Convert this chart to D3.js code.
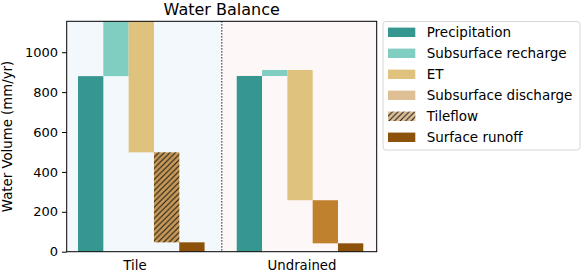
<!DOCTYPE html>
<html>
<head>
<meta charset="utf-8">
<script src="https://cdn.jsdelivr.net/npm/d3@7"></script>
<style>
  body { margin: 0; background: #fff; }
  text { font-family: "DejaVu Sans", sans-serif; fill: #000; }
</style>
</head>
<body>
<svg id="chart" width="584" height="273"></svg>
<script>
// series in legend order
const categories = ["Precipitation", "Subsurface recharge", "ET", "Subsurface discharge", "Tileflow", "Surface runoff"];
const colors = ["#35978f", "#80cdc1", "#dfc27d", "#dfc096", "#c99956", "#8c510a"];
const scenarios = ["Tile", "Undrained"];
// signed flows (mm/yr), waterfall order per scenario
const tileSteps = ["Precipitation", "Subsurface recharge", "ET", "Tileflow", "Surface runoff"];
const tileValues = [880, 300, -682, -451, -47];
const undrainedSteps = ["Precipitation", "Subsurface recharge", "ET", "Subsurface discharge", "Surface runoff"];
const undrainedValues = [881, 30, -653, -216, -42];
const yTicks = [0, 200, 400, 600, 800, 1000];

const svg = d3.select('#chart');
const M = { left: 66.7, right: 376.7, top: 21.3, bottom: 251.7 };

const x = d3.scaleLinear().domain([-0.447, 11.8]).range([M.left, M.right]);
const y = d3.scaleLinear().domain([0, 1155]).range([M.bottom, M.top]);

// hatch for tileflow
const defs = svg.append('defs');
const hp = defs.append('pattern').attr('id', 'hatch')
  .attr('patternUnits', 'userSpaceOnUse').attr('width', 5.56).attr('height', 5.56);
hp.append('path').attr('d', 'M-1,1 L1,-1 M0,5.56 L5.56,0 M4.56,6.56 L6.56,4.56')
  .attr('stroke', '#1a1a1a').attr('stroke-width', 1.1);

const clip = defs.append('clipPath').attr('id', 'plotClip');
clip.append('rect').attr('x', M.left).attr('y', M.top)
  .attr('width', M.right - M.left).attr('height', M.bottom - M.top);

// group backgrounds
const split = 5.68;
svg.append('rect').attr('x', M.left).attr('y', M.top)
  .attr('width', x(split) - M.left).attr('height', M.bottom - M.top).attr('fill', '#f3f8fc');
svg.append('rect').attr('x', x(split)).attr('y', M.top)
  .attr('width', M.right - x(split)).attr('height', M.bottom - M.top).attr('fill', '#fdf7f7');

// waterfall bars
function waterfall(steps, values, start) {
  let level = 0;
  return steps.map((s, i) => {
    const from = level;
    level += values[i];
    return { cat: s, x: start + i, lo: Math.min(from, level), hi: Math.max(from, level) };
  });
}
const bars = waterfall(tileSteps, tileValues, 0).concat(waterfall(undrainedSteps, undrainedValues, 6.27));
const colorOf = c => colors[categories.indexOf(c)];
// undrained subsurface discharge drawn in full colour
const barFill = d => d.cat === 'Subsurface discharge' ? '#bf812d' : colorOf(d.cat);

const g = svg.append('g').attr('clip-path', 'url(#plotClip)');
g.selectAll('rect.bar').data(bars).join('rect')
  .attr('class', 'bar')
  .attr('x', d => x(d.x)).attr('width', x(1) - x(0))
  .attr('y', d => y(d.hi)).attr('height', d => y(d.lo) - y(d.hi))
  .attr('fill', barFill);
g.selectAll('rect.hatch').data(bars.filter(d => d.cat === 'Tileflow')).join('rect')
  .attr('class', 'hatch')
  .attr('x', d => x(d.x)).attr('width', x(1) - x(0))
  .attr('y', d => y(d.hi)).attr('height', d => y(d.lo) - y(d.hi))
  .attr('fill', 'url(#hatch)');

// divider
svg.append('line').attr('x1', x(split)).attr('x2', x(split))
  .attr('y1', M.top).attr('y2', M.bottom)
  .attr('stroke', '#222').attr('stroke-width', 1.2).attr('stroke-dasharray', '1.2,1.8');

// frame
svg.append('rect').attr('x', M.left).attr('y', M.top)
  .attr('width', M.right - M.left).attr('height', M.bottom - M.top)
  .attr('fill', 'none').attr('stroke', '#000').attr('stroke-width', 1);

// y axis
const yAxis = svg.append('g').attr('transform', `translate(${M.left},0)`)
  .call(d3.axisLeft(y).tickValues(yTicks).tickFormat(d3.format('d')).tickSize(4.7).tickPadding(4));
yAxis.select('.domain').remove();
yAxis.selectAll('text').style('font-size', '13px').style('font-family', '"DejaVu Sans", sans-serif').attr('fill', '#000');
yAxis.selectAll('line').attr('stroke', '#000');

// x labels
const xLabelPos = [2.25, 8.85];
svg.selectAll('text.xl').data(scenarios).join('text')
  .attr('class', 'xl')
  .attr('x', (d, i) => x(xLabelPos[i])).attr('y', 270)
  .attr('text-anchor', 'middle').style('font-size', '13.3px')
  .text(d => d);

svg.append('text').attr('transform', `translate(12,${(M.top + M.bottom) / 2}) rotate(-90)`)
  .attr('text-anchor', 'middle').style('font-size', '13.3px')
  .text('Water Volume (mm/yr)');

svg.append('text').attr('x', (M.left + M.right) / 2).attr('y', 15)
  .attr('text-anchor', 'middle').style('font-size', '16px')
  .text('Water Balance');

// legend
const lg = svg.append('g').attr('transform', 'translate(383,21.5)');
lg.append('rect').attr('x', 0).attr('y', 0).attr('width', 197).attr('height', 128.5)
  .attr('rx', 3).attr('fill', '#fff').attr('stroke', '#d6d6d6').attr('stroke-width', 1);
const items = lg.selectAll('g.item').data(categories).join('g')
  .attr('class', 'item')
  .attr('transform', (d, i) => `translate(5,${10.8 + i * 21})`);
items.append('rect').attr('x', 0).attr('y', -4.7).attr('width', 27.3).attr('height', 9.4)
  .attr('fill', (d, i) => d === 'Tileflow' ? '#dfc096' : colors[i]);
items.filter(d => d === 'Tileflow').append('rect')
  .attr('x', 0).attr('y', -4.7).attr('width', 27.3).attr('height', 9.4)
  .attr('fill', 'url(#hatch)');
items.append('text').attr('x', 38.7).attr('y', 4.8)
  .style('font-size', '13.5px').text(d => d);
</script>
</body>
</html>
